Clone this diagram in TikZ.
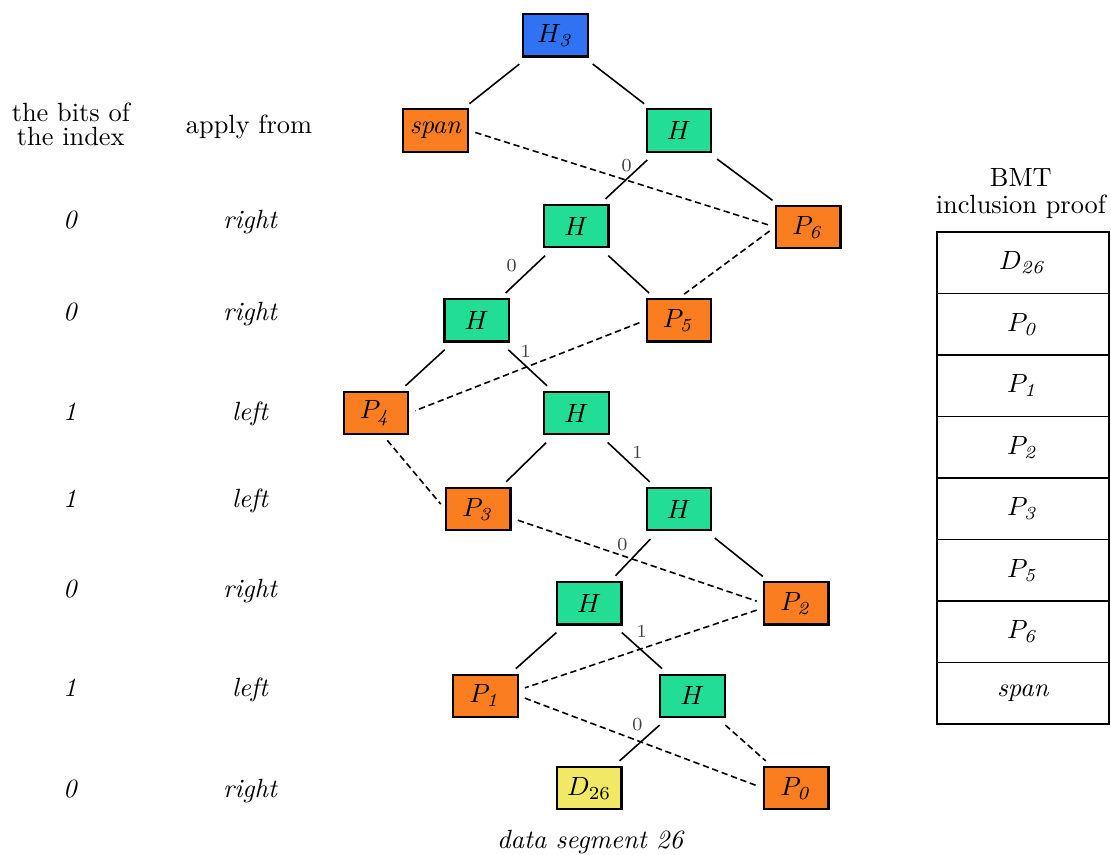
\documentclass[tikz,border=0pt]{standalone}
\usepackage{amsmath, amssymb}
\usepackage{xcolor}
\usepackage{tikz}
\usetikzlibrary{positioning}

\definecolor{rootblue}{RGB}{47,114,244}
\definecolor{hashgreen}{RGB}{34,221,150}
\definecolor{prooforange}{RGB}{250,126,32}
\definecolor{datayellow}{RGB}{241,233,102}

\begin{document}
\begin{tikzpicture}[
  box/.style={draw, line width=0.8pt, minimum width=0.86cm, minimum height=0.565cm, inner sep=0pt},
  hnode/.style={box, fill=hashgreen},
  pnode/.style={box, fill=prooforange},
  branch/.style={line width=0.6pt, shorten <=4pt, shorten >=2.8pt},
  proof/.style={line width=0.6pt, dash pattern=on 2.4pt off 1.4pt, shorten <=2.5pt, shorten >=2.5pt},
  bit/.style={font=\scriptsize, text=black!75, inner sep=0pt},
  cell/.style={draw, line width=0.6pt, minimum width=2.3cm, minimum height=0.82cm, inner sep=0pt}
]
\useasboundingbox (0,0) rectangle (14.813,-11.387);

% left columns
\node[align=center] (bitshead) at (0.944,-1.656) {the bits of\\[-3pt]the index};
\node[anchor=base] (applyhead) at (3.32,-1.777) {apply from};
\foreach \b/\side/\y [count=\i] in {0/right/3.04, 0/right/4.267, 1/left/5.613, 1/left/6.773, 0/right/7.96, 1/left/9.28, 0/right/10.627} {
  \node[anchor=base, font=\itshape] (bit\i) at (0.933,-\y) {\b};
  \node[anchor=base, font=\itshape] (side\i) at (3.333,-\y) {\side};
}

% tree
\node[box, fill=rootblue] (root) at (7.407,-0.471) {$H_{\mathit{3}}$};
\node[pnode] (span) at (5.809,-1.740) {\textit{span}};
\node[hnode] (h1) at (9.051,-1.740) {$H$};
\node[hnode] (h2) at (7.683,-3.016) {$H$};
\node[pnode] (p6) at (10.777,-3.027) {$P_{\mathit{6}}$};
\node[hnode] (h3) at (6.356,-4.271) {$H$};
\node[pnode] (p5) at (9.051,-4.271) {$P_{\mathit{5}}$};
\node[pnode] (p4) at (5.011,-5.507) {$P_{\mathit{4}}$};
\node[hnode] (h4) at (7.684,-5.507) {$H$};
\node[pnode] (p3) at (6.377,-6.789) {$P_{\mathit{3}}$};
\node[hnode] (h5) at (9.051,-6.789) {$H$};
\node[hnode] (h6) at (7.856,-8.044) {$H$};
\node[pnode] (p2) at (10.617,-8.044) {$P_{\mathit{2}}$};
\node[pnode] (p1) at (6.471,-9.277) {$P_{\mathit{1}}$};
\node[hnode] (h7) at (9.231,-9.277) {$H$};
\node[box, fill=datayellow] (d26) at (7.856,-10.507) {$D_{26}$};
\node[pnode] (p0) at (10.617,-10.507) {$P_{\mathit{0}}$};
\node[anchor=base, font=\itshape] (caption) at (7.867,-11.307) {data segment 26};

\draw[branch] (root) -- (span);
\draw[branch] (root) -- (h1);
\draw[branch] (h1) -- (h2);
\draw[branch] (h1) -- (p6);
\draw[branch] (h2) -- (h3);
\draw[branch] (h2) -- (p5);
\draw[branch] (h3) -- (p4);
\draw[branch] (h3) -- (h4);
\draw[branch] (h4) -- (p3);
\draw[branch] (h4) -- (h5);
\draw[branch] (h5) -- (h6);
\draw[branch] (h5) -- (p2);
\draw[branch] (h6) -- (p1);
\draw[branch] (h6) -- (h7);
\draw[branch] (h7) -- (d26);
\draw[branch, dash pattern=on 2.4pt off 1.4pt] (h7) -- (p0);

% bits on the path
\node[bit] (lbl1) at (8.356,-2.209) {0};
\node[bit] (lbl2) at (6.823,-3.543) {0};
\node[bit] (lbl3) at (7.009,-4.680) {1};
\node[bit] (lbl4) at (8.497,-6.036) {1};
\node[bit] (lbl5) at (8.297,-7.267) {0};
\node[bit] (lbl6) at (8.556,-8.423) {1};
\node[bit] (lbl7) at (8.497,-9.667) {0};

% proof order
\draw[proof] (span.east) -- (p6.west);
\draw[proof] (p6.west) -- (p5.north);
\draw[proof] (p5.west) -- (p4.east);
\draw[proof] (p4.-72) -- (p3.west);
\draw[proof] (p3.-15) -- (p2.west);
\draw[proof] (p2.188) -- (p1.10);
\draw[proof] (p1.east) -- (p0.west);

% proof table
\node[align=center] (bmthead) at (13.611,-2.581) {BMT\\[-1.5pt]inclusion proof};
\foreach \entry [count=\i] in {$D_{\mathit{26}}$, $P_{\mathit{0}}$, $P_{\mathit{1}}$, $P_{\mathit{2}}$, $P_{\mathit{3}}$, $P_{\mathit{5}}$, $P_{\mathit{6}}$, \textit{span}}
  \node[cell] (row\i) at (13.64,{-3.503-(\i-1)*0.82}) {\entry};
\end{tikzpicture}
\end{document}
